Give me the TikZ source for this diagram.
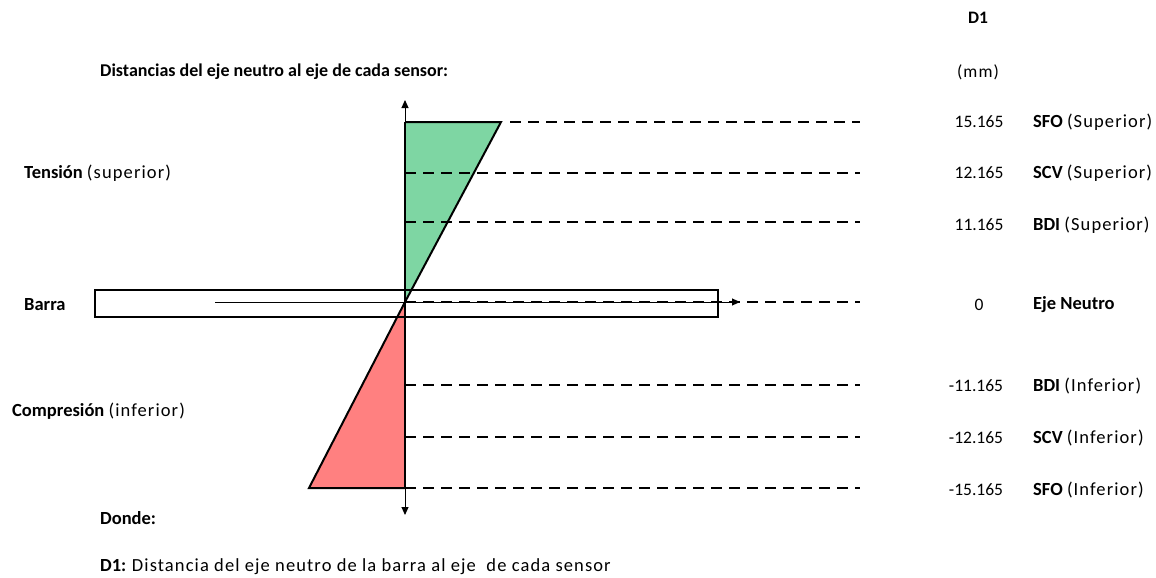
\documentclass[tikz,border=0pt]{standalone}
\usepackage{fontspec}
\setmainfont{Carlito}
\newfontfamily\rgfont[LetterSpace=6]{Carlito}
\newcommand{\rg}[1]{{\rgfont #1}}
\usetikzlibrary{arrows.meta}
\definecolor{tgreen}{RGB}{126,214,163}
\definecolor{tred}{RGB}{255,128,128}
\tikzset{
  txt/.style={inner sep=0pt, font=\fontsize{18.5}{20}\selectfont},
  lbl/.style={txt, anchor=west},
  num/.style={inner sep=0pt, anchor=center, font=\fontsize{17.5}{20}\selectfont},
  dline/.style={line width=1.9pt, dash pattern=on 11pt off 7pt},
  axis/.style={line width=1pt, -{Triangle[length=8pt,width=7pt]}},
  tri/.style={draw=black, line width=2pt, line join=miter},
}
\begin{document}
\begin{tikzpicture}[x=1pt,y=-1pt]
\useasboundingbox (0,0) rectangle (1156,578);
% coordinates
\coordinate (O) at (405,302);
\coordinate (gt) at (405,122);
\coordinate (gr) at (501,122);
\coordinate (rb) at (405,488);
\coordinate (rl) at (309,488);
\coordinate (axtop) at (405,100);
\coordinate (axbot) at (405,515);
\coordinate (arrS) at (215,302);
\coordinate (arrE) at (740,302);
% triangles
\fill[tgreen] (gt) -- (gr) -- (O) -- cycle;
\fill[tred] (O) -- (rb) -- (rl) -- cycle;
% bar
\node[draw, line width=2pt, minimum width=623pt, minimum height=27pt, inner sep=0pt] (bar) at (406.5,303.5) {};
% dashed lines
\coordinate (d1a) at (510,122); \coordinate (d1b) at (860,122);
\coordinate (d2a) at (405,173); \coordinate (d2b) at (860,173);
\coordinate (d3a) at (405,222); \coordinate (d3b) at (860,222);
\coordinate (d4a) at (405,302); \coordinate (d4b) at (860,302);
\coordinate (d5a) at (405,385); \coordinate (d5b) at (860,385);
\coordinate (d6a) at (405,437); \coordinate (d6b) at (860,437);
\coordinate (d7a) at (405,488); \coordinate (d7b) at (860,488);
\foreach \i in {1,...,7} { \draw[dline] (d\i a) -- (d\i b); }
% triangle edges
\draw[tri] (gt) -- (gr) -- (O);
\draw[tri] (O) -- (rl) -- (rb);
% axes
\draw[axis] (O) -- (axtop);
\draw[axis] (O) -- (axbot);
\draw[line width=2pt] (gt) -- (rb);
\draw[axis, line width=0.9pt] (arrS) -- (arrE);
% texts
\node[num, font=\fontsize{17.5}{20}\selectfont\bfseries] (hD1) at (978,18) {D1};
\node[num] (hmm) at (978,72) {\rg{(mm)}};
\node[num] (n1) at (979,122) {15.165};
\node[num] (n2) at (979,173) {12.165};
\node[num] (n3) at (979,225) {11.165};
\node[num] (n4) at (979,305) {0};
\node[num] (n5) at (976,386) {-11.165};
\node[num] (n6) at (976,438) {-12.165};
\node[num] (n7) at (976,490) {-15.165};
\node[lbl] (l1) at (1033,122) {\textbf{SFO} \rg{(Superior)}};
\node[lbl] (l2) at (1033,173) {\textbf{SCV} \rg{(Superior)}};
\node[lbl] (l3) at (1033,225) {\textbf{BDI} \rg{(Superior)}};
\node[lbl] (l4) at (1033,305) {\textbf{Eje Neutro}};
\node[lbl] (l5) at (1033,386) {\textbf{BDI} \rg{(Inferior)}};
\node[lbl] (l6) at (1033,438) {\textbf{SCV} \rg{(Inferior)}};
\node[lbl] (l7) at (1033,490) {\textbf{SFO} \rg{(Inferior)}};
\node[lbl, font=\fontsize{18}{20}\selectfont] (title) at (100,72) {\textbf{Distancias del eje neutro al eje de cada sensor:}};
\node[lbl] (tens) at (24,173) {\textbf{Tensión} \rg{(superior)}};
\node[lbl] (barra) at (24,305) {\textbf{Barra}};
\node[lbl] (comp) at (12,411) {\textbf{Compresión} \rg{(inferior)}};
\node[lbl] (donde) at (100,518) {\textbf{Donde:}};
\node[lbl] (def) at (100,567) {\textbf{D1:} \rg{Distancia del eje neutro de la barra al eje\ \ de cada sensor}};
\end{tikzpicture}
\end{document}
